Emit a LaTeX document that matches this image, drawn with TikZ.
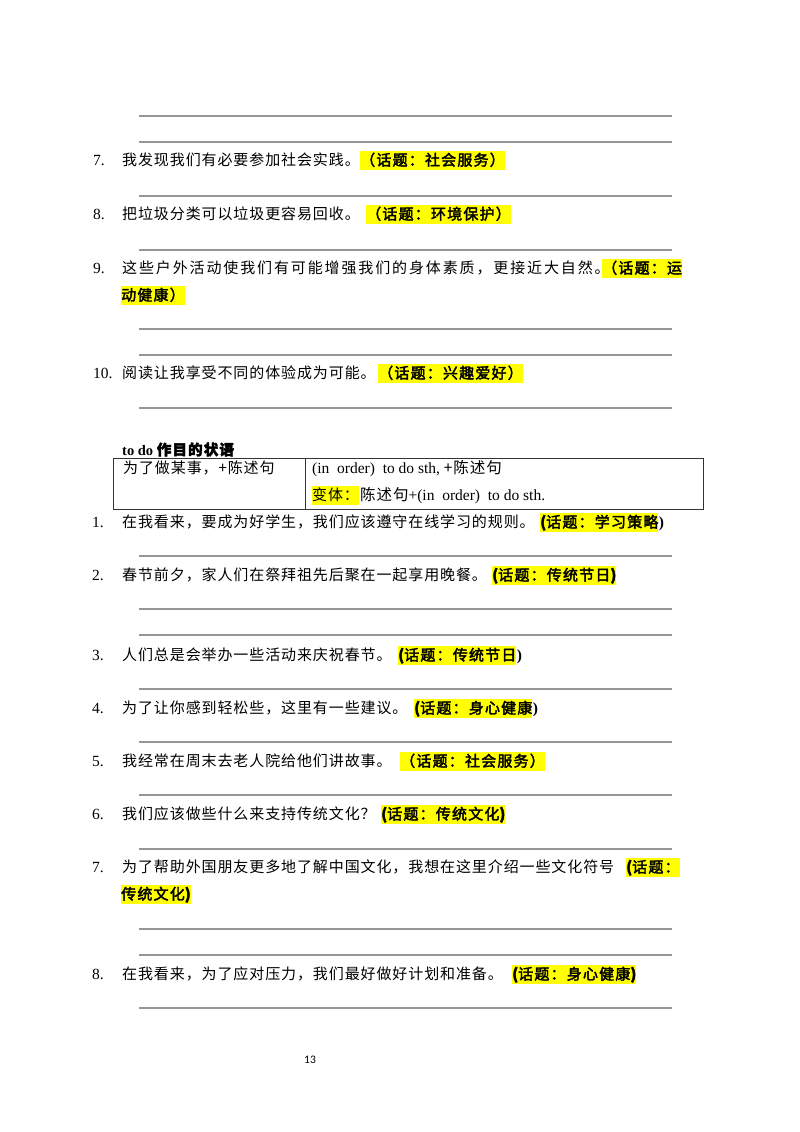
\documentclass[tikz,border=0pt]{standalone}
\usepackage{fontspec}
\setmainfont{Liberation Serif}
\newfontfamily\cjk{Noto Sans CJK SC}[LetterSpace=6]
\newfontfamily\cjkw{Noto Sans CJK SC}[LetterSpace=12.5]
\newfontfamily\cjkb{Noto Sans CJK SC}[FakeBold=2.5,LetterSpace=8]
\newfontfamily\pgnum{Carlito}
\newcommand\fsz{\fontsize{15}{17}\selectfont}
\newcommand\lsz{\fontsize{15.5}{17}\selectfont}
\definecolor{hly}{RGB}{255,255,0}
\definecolor{rulegray}{RGB}{150,150,150}
\tikzset{
  txt/.style={anchor=base west, inner sep=0pt, font=\fsz\cjk},
  wtxt/.style={anchor=base west, inner sep=0pt, font=\fsz\cjkw},
  num/.style={anchor=base west, inner sep=0pt, font=\lsz\normalfont},
  hl/.style={anchor=base west, inner sep=0pt, fill=hly, text height=15pt, text depth=4pt, font=\fsz\cjkb},
  hlr/.style={anchor=base west, inner sep=0pt, fill=hly, text height=15pt, text depth=4pt, font=\fsz\cjk},
  rparen/.style={anchor=base west, inner sep=0pt, font=\lsz\bfseries},
  rule/.style={draw=rulegray, line width=1.3pt},
  tab/.style={draw=black!80, line width=1pt}
}
\begin{document}
\begin{tikzpicture}[x=1pt,y=-1pt]
\useasboundingbox[fill=white] (0,0) rectangle (800,1132);
% ---- section 1 ----
\foreach \yy in {116,142,196,250,329,355,408}{\draw[rule] (139,\yy) -- (672,\yy);}
\node[num] (n7) at (93,165.5) {7.};
\node[txt] (t7) at (122,165.5) {我发现我们有必要参加社会实践。};
\node[hl]  (h7) at (360,165.5) {（话题：社会服务）};
\node[num] (n8) at (93,219.5) {8.};
\node[txt] (t8) at (122,219.5) {把垃圾分类可以垃圾更容易回收。};
\node[hl]  (h8) at (366,219.5) {（话题：环境保护）};
\node[num] (n9) at (93,273.5) {9.};
\node[wtxt] (t9) at (122,273.5) {这些户外活动使我们有可能增强我们的身体素质，更接近大自然。};
\node[hl]  (h9) at (602,273.5) {（话题：运};
\node[hl]  (h9b) at (121,300.5) {动健康）};
\node[num] (n10) at (93,378.5) {10.};
\node[txt] (t10) at (122,378.5) {阅读让我享受不同的体验成为可能。};
\node[hl]  (h10) at (378,378.5) {（话题：兴趣爱好）};
% ---- table ----
\node[anchor=base west, inner sep=0pt, font=\fontsize{14.5}{17}\selectfont\bfseries] (title) at (122,455) {to do {\cjkb 作目的状语}};
\draw[tab] (113,458) rectangle (703,509);
\draw[tab] (305,458) -- (305,509);
\node[txt] (c1) at (123,473.5) {为了做某事，+陈述句};
\node[num] (c2) at (312,473.5) {(in\ \ order)\ \ to do sth, {\cjk +陈述句}};
\node[hlr] (c3) at (312,500.5) {变体：};
\node[num] (c4) at (360,500.5) {{\cjk 陈述句}+(in\ \ order)\ \ to do sth.};
% ---- section 2 ----
\foreach \yy in {556,609,635,689,742,795,849,929,955,1008}{\draw[rule] (139,\yy) -- (672,\yy);}
\node[num] (m1) at (92,527.5) {1.};
\node[txt] (s1) at (122,527.5) {在我看来，要成为好学生，我们应该遵守在线学习的规则。};
\node[hl]  (g1) at (540,527.5) {{\bfseries(}话题：学习策略};
\node[rparen] (p1) at (g1.base east) {)};
\node[num] (m2) at (92,580.5) {2.};
\node[txt] (s2) at (122,580.5) {春节前夕，家人们在祭拜祖先后聚在一起享用晚餐。};
\node[hl]  (g2) at (492,580.5) {{\bfseries(}话题：传统节日{\bfseries)}};
\node[num] (m3) at (92,660.5) {3.};
\node[txt] (s3) at (122,660.5) {人们总是会举办一些活动来庆祝春节。};
\node[hl]  (g3) at (398,660.5) {{\bfseries(}话题：传统节日};
\node[rparen] (p3) at (g3.base east) {)};
\node[num] (m4) at (92,713.5) {4.};
\node[txt] (s4) at (122,713.5) {为了让你感到轻松些，这里有一些建议。};
\node[hl]  (g4) at (414,713.5) {{\bfseries(}话题：身心健康};
\node[rparen] (p4) at (g4.base east) {)};
\node[num] (m5) at (92,766.5) {5.};
\node[txt] (s5) at (122,766.5) {我经常在周末去老人院给他们讲故事。};
\node[hl]  (g5) at (400,766.5) {（话题：社会服务）};
\node[num] (m6) at (92,819.5) {6.};
\node[txt] (s6) at (122,819.5) {我们应该做些什么来支持传统文化？};
\node[hl]  (g6) at (381,819.5) {{\bfseries(}话题：传统文化{\bfseries)}};
\node[num] (m7) at (92,872.5) {7.};
\node[txt] (s7) at (122,872.5) {为了帮助外国朋友更多地了解中国文化，我想在这里介绍一些文化符号};
\node[hl]  (g7) at (626,872.5) {{\bfseries(}话题：};
\node[hl]  (g7b) at (121,899.5) {传统文化{\bfseries)}};
\node[num] (m8) at (92,979.5) {8.};
\node[txt] (s8) at (122,979.5) {在我看来，为了应对压力，我们最好做好计划和准备。};
\node[hl]  (g8) at (512,979.5) {{\bfseries(}话题：身心健康{\bfseries)}};
% ---- page number ----
\node[inner sep=0pt, font=\fontsize{11.5}{13}\selectfont\pgnum] (pg) at (310,1060) {13};
\end{tikzpicture}
\end{document}
